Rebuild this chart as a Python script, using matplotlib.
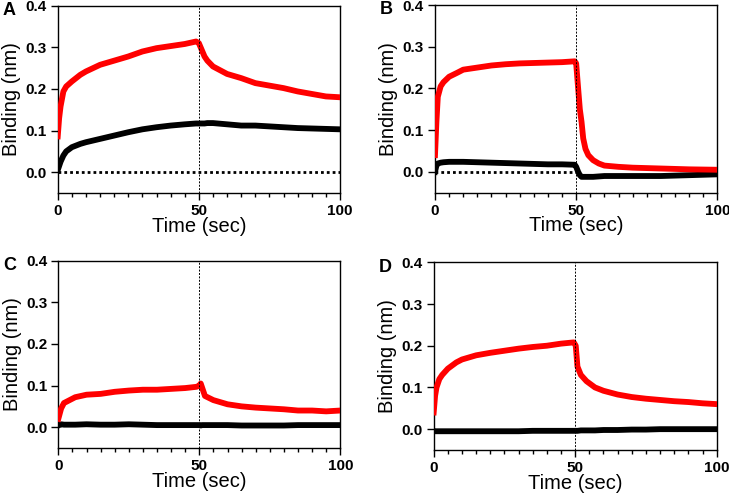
import matplotlib
matplotlib.use("Agg")
import matplotlib.pyplot as plt
from matplotlib.ticker import MultipleLocator, FormatStrFormatter

plt.rcParams["font.family"] = ["Liberation Sans", "DejaVu Sans"]

# Values (mean of each noisy trace)
a_time = [0, 0.5, 1, 2, 3, 5, 8, 10, 15, 20, 25, 30, 35, 40, 45, 49, 50, 51, 52, 53, 55,
          60, 65, 70, 75, 80, 85, 90, 95, 100]
a_red = [0.086, 0.13, 0.158, 0.194, 0.206, 0.218, 0.234, 0.242, 0.258, 0.268, 0.278, 0.29,
         0.298, 0.303, 0.308, 0.314, 0.31, 0.294, 0.278, 0.268, 0.254, 0.236, 0.226, 0.214,
         0.208, 0.202, 0.194, 0.188, 0.182, 0.18]
a_black = [0.005, 0.015, 0.025, 0.04, 0.05, 0.06, 0.068, 0.072, 0.08, 0.088, 0.096, 0.103,
           0.108, 0.112, 0.115, 0.117, 0.117, 0.117, 0.117, 0.118, 0.118, 0.115, 0.112, 0.112,
           0.11, 0.108, 0.106, 0.105, 0.104, 0.103]

b_time = [0, 0.5, 1, 2, 3, 5, 8, 10, 15, 20, 25, 30, 40, 45, 49.5, 50, 50.7, 51.3, 51.9,
          52.5, 53.3, 54.3, 56, 58, 60, 65, 70, 80, 90, 100]
b_red = [0.04, 0.12, 0.18, 0.205, 0.215, 0.228, 0.238, 0.245, 0.25, 0.255, 0.258, 0.26,
         0.262, 0.263, 0.265, 0.26, 0.2, 0.15, 0.12, 0.08, 0.055, 0.04, 0.028, 0.02, 0.015,
         0.012, 0.01, 0.008, 0.006, 0.005]
b_black = [0.0, 0.015, 0.02, 0.022, 0.023, 0.024, 0.024, 0.024, 0.023, 0.022, 0.021, 0.02,
           0.018, 0.018, 0.017, 0.012, 0.0, -0.008, -0.012, -0.012, -0.012, -0.012, -0.012,
           -0.011, -0.01, -0.01, -0.01, -0.01, -0.008, -0.006]

c_time = [0, 1, 2, 4, 6, 10, 15, 20, 25, 30, 35, 40, 45, 49, 50, 50.5, 51, 52, 55, 60, 65,
          70, 75, 80, 85, 90, 95, 100]
c_red = [0.02, 0.045, 0.058, 0.065, 0.072, 0.078, 0.08, 0.085, 0.088, 0.09, 0.09, 0.092,
         0.094, 0.097, 0.1, 0.105, 0.095, 0.075, 0.065, 0.055, 0.05, 0.047, 0.045, 0.043,
         0.04, 0.04, 0.038, 0.04]
c_black = [0.004, 0.007, 0.006, 0.006, 0.006, 0.007, 0.006, 0.006, 0.007, 0.006, 0.005,
           0.005, 0.005, 0.005, 0.005, 0.004, 0.005, 0.005, 0.005, 0.005, 0.004, 0.004,
           0.004, 0.004, 0.005, 0.005, 0.005, 0.005]

d_time = [0, 0.5, 1, 2, 3, 5, 8, 10, 15, 20, 25, 30, 35, 40, 45, 49.5, 50.2, 50.8, 52, 54,
          57, 60, 65, 70, 75, 80, 85, 90, 95, 100]
d_red = [0.04, 0.08, 0.1, 0.12, 0.13, 0.145, 0.16, 0.167, 0.177, 0.183, 0.188, 0.193, 0.197,
         0.2, 0.205, 0.208, 0.2, 0.15, 0.13, 0.115, 0.1, 0.092, 0.083, 0.077, 0.073, 0.07,
         0.067, 0.065, 0.062, 0.06]
d_black = [-0.004, -0.005, -0.005, -0.005, -0.005, -0.005, -0.005, -0.005, -0.005, -0.005,
           -0.005, -0.005, -0.004, -0.004, -0.004, -0.004, -0.004, -0.004, -0.003, -0.003,
           -0.003, -0.002, -0.002, -0.001, -0.001, 0.0, 0.0, 0.0, 0.0, 0.0]

panel_labels = ["A", "B", "C", "D"]
y_ticks = [0.0, 0.1, 0.2, 0.3, 0.4]
x_ticks = [0, 50, 100]
switch_time = 50
baseline_end = [100, 50, None, None]

panels = [
    (a_time, a_red, a_black),
    (b_time, b_red, b_black),
    (c_time, c_red, c_black),
    (d_time, d_red, d_black),
]
positions = [
    [0.0792, 0.6109, 0.3872, 0.3776],
    [0.5967, 0.6115, 0.3873, 0.3784],
    [0.0800, 0.0968, 0.3868, 0.3776],
    [0.5949, 0.0927, 0.3882, 0.3785],
]

fig = plt.figure(figsize=(7.29, 4.96), dpi=100)

for label, (time, red, black), pos, base_end in zip(panel_labels, panels, positions, baseline_end):
    ax = fig.add_axes(pos)
    if base_end is not None:
        ax.plot([0, base_end], [0, 0], color="black", lw=2.0, linestyle=(0, (1, 1.1)), zorder=1)
    ax.plot(time, black, color="black", lw=4.2, solid_joinstyle="round", zorder=2)
    ax.plot(time, red, color="#ff0000", lw=4.2, solid_joinstyle="round", zorder=3)
    ax.axvline(switch_time, color="black", lw=0.7, linestyle=(0, (2, 1.5)), zorder=4)

    ax.set_xlim(0, 100)
    ax.set_ylim(-0.05, 0.4)
    ax.set_xticks(x_ticks)
    ax.xaxis.set_minor_locator(MultipleLocator(5))
    ax.set_yticks(y_ticks)
    ax.yaxis.set_major_formatter(FormatStrFormatter("%.1f"))
    ax.tick_params(axis="both", which="major", direction="out", length=5, width=1,
                   labelsize=11, pad=3)
    ax.tick_params(axis="x", which="minor", direction="out", length=3, width=1)
    for tick in ax.get_xticklabels() + ax.get_yticklabels():
        tick.set_fontweight("bold")
    for spine in ax.spines.values():
        spine.set_linewidth(1.0)

    ax.set_xlabel("Time (sec)", fontsize=14.5, labelpad=-1)
    ax.set_ylabel("Binding (nm)", fontsize=14.5, labelpad=3)

    fig.text(pos[0] - 0.076, pos[1] + pos[3] - 0.01, label, fontsize=13,
             fontweight="bold", ha="left", va="center")

fig.savefig("out.png", dpi=100)
